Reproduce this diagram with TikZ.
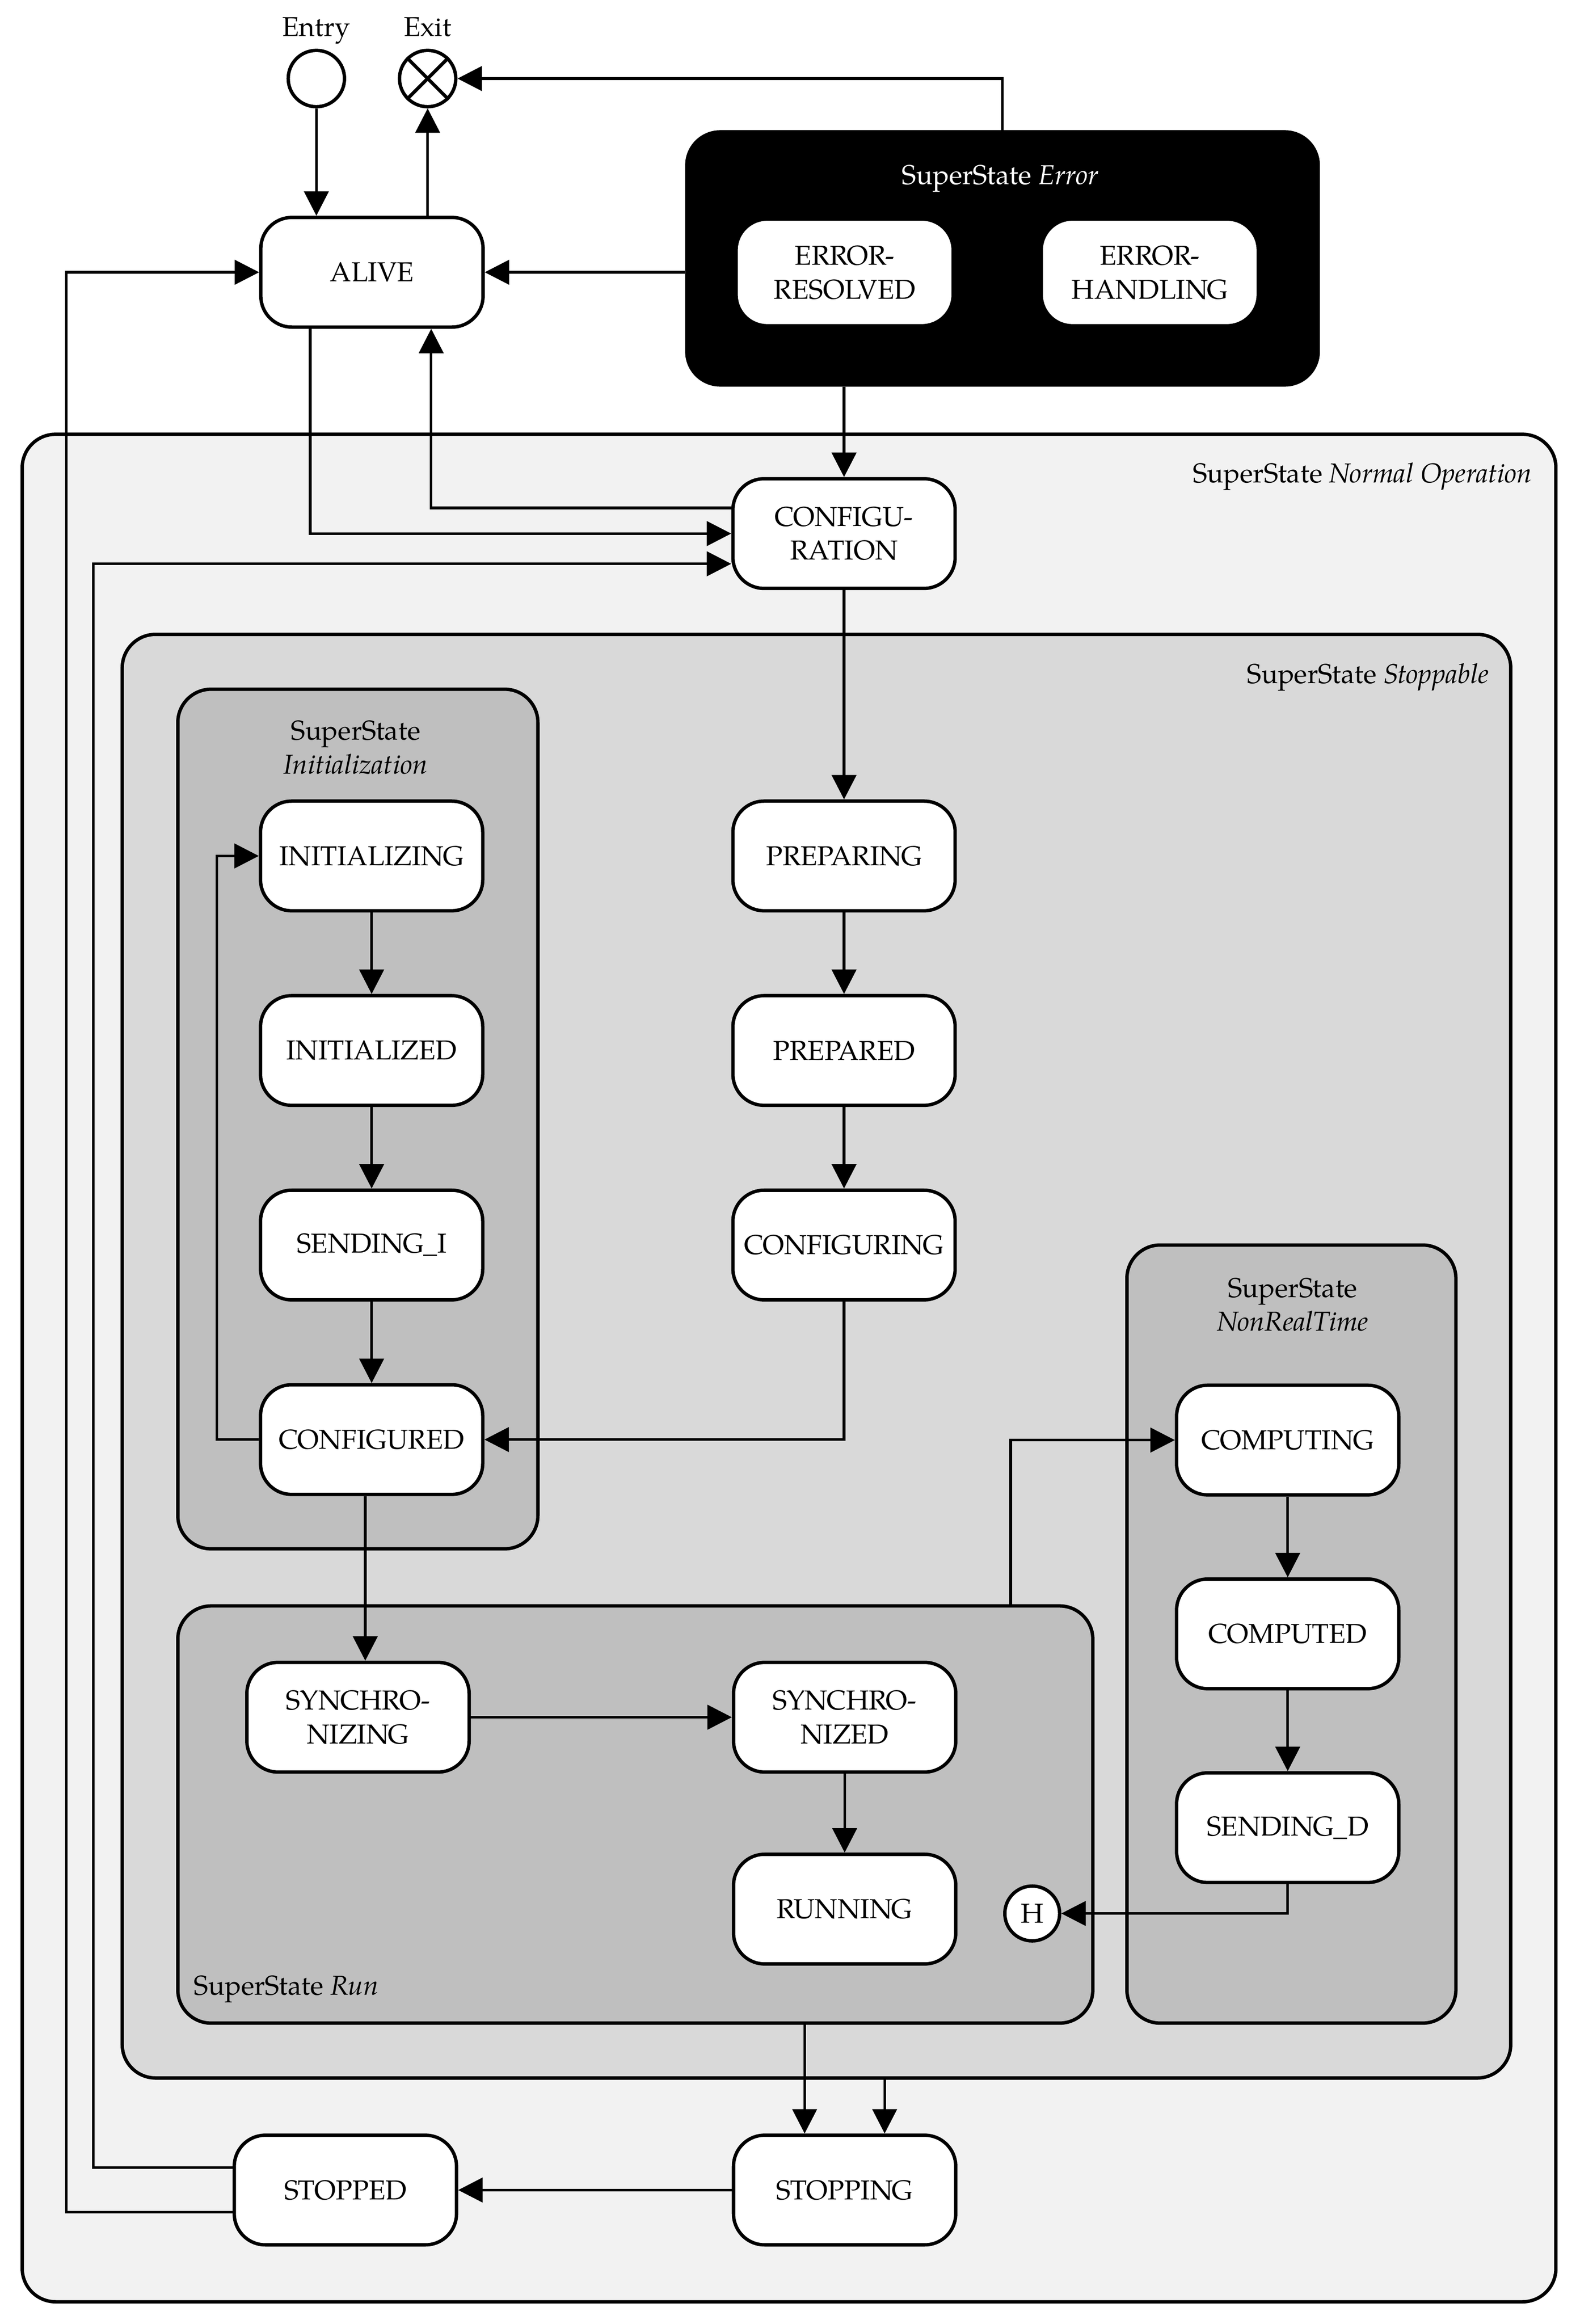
\documentclass[tikz,border=0pt]{standalone}
\usepackage{fontspec}
\setmainfont{TeX Gyre Pagella}
\usepackage{tikz}
\usepackage{xcolor}
\usetikzlibrary{positioning}
\usetikzlibrary{arrows.meta,calc}
\usetikzlibrary{fit}

\tikzset{
  statebox/.style={draw, fill=white, line width=1.3pt, rounded corners=0.42cm,
    minimum width=3cm, minimum height=1.48cm, inner sep=1pt, align=center,
    font=\fontsize{10.5}{13}\selectfont},
  superbox/.style={draw, line width=1.3pt, rounded corners=0.45cm, inner sep=0pt},
  pseudo/.style={draw, circle, fill=white, line width=1.3pt, minimum size=0.76cm, inner sep=0pt},
  flow/.style={->, line width=1pt},
  title/.style={font=\fontsize{10.5}{13}\selectfont, inner sep=0pt}
}

\begin{document}
\begin{tikzpicture}[x=0.02cm, y=-0.02cm, >={Triangle[length=0.33cm, width=0.33cm]}]
\useasboundingbox (0,0) rectangle (1066,1568);

% super states
\node[superbox, fill=black!5, fit={(15,293) (1050,1553)}] (normal) {};
\node[superbox, fill=black!15, fit={(82.5,428) (1019.5,1402)}] (stoppable) {};
\node[superbox, fill=black!25, fit={(120,465) (363,1045)}] (init) {};
\node[superbox, fill=black!25, fit={(760.5,840) (982.5,1365)}] (nonrt) {};
\node[superbox, fill=black!25, fit={(120,1083.5) (737.5,1365)}] (run) {};
\node[superbox, fill=black, fit={(463.5,89) (889.6,259.7)}] (error) {};

\node[title, anchor=base east] (tnormal) at (1034.3,325.7) {SuperState \textit{Normal Operation}};
\node[title, anchor=base east] (tstoppable) at (1005,461) {SuperState \textit{Stoppable}};
\node[title, anchor=base, text=white] (terror) at (675,124.5) {SuperState \textit{Error}};
\node[title, anchor=base, align=center] (tinit) at (240,522) {SuperState\\\textit{Initialization}};
\node[title, anchor=base, align=center] (tnonrt) at (872.3,898) {SuperState\\\textit{NonRealTime}};
\node[title, anchor=base west] (trun) at (130.5,1346) {SuperState \textit{Run}};

% pseudo states
\node[pseudo, label={[title, text depth=0.25ex, yshift=0.12cm]above:Entry}] (entry) at (213.5,53) {};
\node[pseudo, label={[title, text depth=0.25ex, yshift=0.12cm]above:Exit}] (exit) at (288.6,53) {};
\draw[line width=1.3pt] (exit.north west) -- (exit.south east) (exit.north east) -- (exit.south west);

% states
\node[statebox] (alive) at (251,183.7) {ALIVE};
\node[statebox, minimum width=2.93cm, minimum height=1.44cm] (errresolved) at (570,183.8) {ERROR-\\RESOLVED};
\node[statebox, minimum width=2.93cm, minimum height=1.44cm] (errhandling) at (775.9,183.8) {ERROR-\\HANDLING};
\node[statebox] (configuration) at (569.6,360) {CONFIGU-\\RATION};

\node[statebox] (initializing) at (250.8,577.5) {INITIALIZING};
\node[statebox, below=1.1cm of initializing] (initialized) {INITIALIZED};
\node[statebox, below=1.1cm of initialized] (sendingi) {SENDING\_I};
\node[statebox, below=1.1cm of sendingi] (configured) {CONFIGURED};

\node[statebox] (preparing) at (569.6,577.5) {PREPARING};
\node[statebox, below=1.1cm of preparing] (prepared) {PREPARED};
\node[statebox, below=1.1cm of prepared] (configuring) {CONFIGURING};

\node[statebox] (computing) at (869,971.6) {COMPUTING};
\node[statebox, below=1.09cm of computing] (computed) {COMPUTED};
\node[statebox, below=1.09cm of computed] (sendingd) {SENDING\_D};

\node[statebox] (synchronizing) at (241.6,1158.6) {SYNCHRO-\\NIZING};
\node[statebox, right=3.524cm of synchronizing] (synchronized) {SYNCHRO-\\NIZED};
\node[statebox, below=1.064cm of synchronized] (running) {RUNNING};
\node[pseudo, minimum size=0.74cm, font=\fontsize{10.5}{12}\selectfont] (hist) at (696.6,1291) {H};

\node[statebox] (stopping) at (570,1477.6) {STOPPING};
\node[statebox, left=3.694cm of stopping] (stopped) {STOPPED};

% transitions
\draw[flow] (entry) -- (entry |- alive.north);
\draw[flow] (exit |- alive.north) -- (exit);
\draw[flow] (error.north) |- (exit);
\draw[flow] (error.west |- alive) -- (alive);
\draw[flow] (error.south -| configuration) -- (configuration);
\draw[flow] (alive.south -| 209.3,0) |- (configuration);
\draw[flow] (configuration.west |- 0,342.7) -| (alive.south -| 291,0);
\draw[flow] (stopped.west |- 0,1462.5) -| (63,380.4) -- (configuration.west |- 0,380.4);
\draw[flow] (stopped.west |- 0,1492.5) -| (44.8,183.7) -- (alive);

\draw[flow] (configuration) -- (preparing);
\draw[flow] (preparing) -- (prepared);
\draw[flow] (prepared) -- (configuring);
\draw[flow] (configuring) |- (configured);

\draw[flow] (initializing) -- (initialized);
\draw[flow] (initialized) -- (sendingi);
\draw[flow] (sendingi) -- (configured);
\draw[flow] (configured.west) -- ++(-28.2,0) |- (initializing.west);
\draw[flow] (configured.south -| 246.5,0) -- (synchronizing.north -| 246.5,0);

\draw[flow] (synchronizing) -- (synchronized);
\draw[flow] (synchronized) -- (running);
\draw[flow] (run.north -| 682,0) |- (computing);
\draw[flow] (computing) -- (computed);
\draw[flow] (computed) -- (sendingd);
\draw[flow] (sendingd) |- (hist);

\draw[flow] (run.south -| 543,0) -- (stopping.north -| 543,0);
\draw[flow] (stoppable.south -| 597,0) -- (stopping.north -| 597,0);
\draw[flow] (stopping) -- (stopped);
\end{tikzpicture}
\end{document}
